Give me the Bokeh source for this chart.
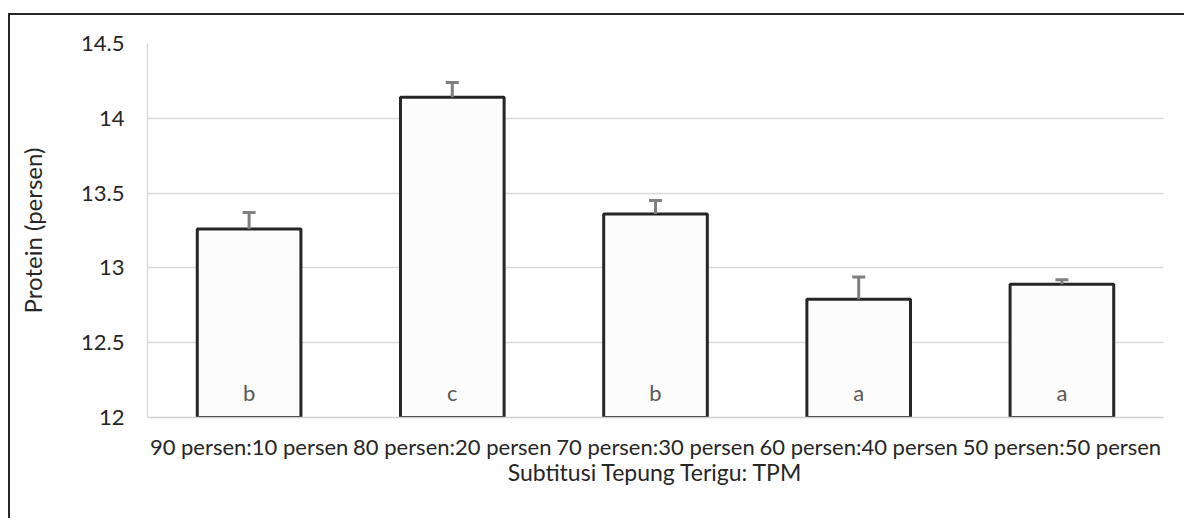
from bokeh.plotting import figure
from bokeh.models import Range1d, FactorRange, ColumnDataSource, Whisker, TeeHead
from bokeh.core.properties import value
from bokeh.embed import file_html
from bokeh.resources import INLINE

# ---- data ----
categories = ["90 persen:10 persen", "80 persen:20 persen", "70 persen:30 persen",
              "60 persen:40 persen", "50 persen:50 persen"]
protein = [13.26, 14.14, 13.36, 12.79, 12.89]
errors = [0.11, 0.10, 0.09, 0.15, 0.03]
letters = ["b", "c", "b", "a", "a"]
y_ticks = [12, 12.5, 13, 13.5, 14, 14.5]
y_tick_labels = {12: "12", 12.5: "12.5", 13: "13", 13.5: "13.5", 14: "14", 14.5: "14.5"}

FONT = "Lato"

src = ColumnDataSource(dict(
    cat=categories,
    val=protein,
    upper=[v + e for v, e in zip(protein, errors)],
    base=[12] * len(categories),
    letter=letters,
))

p = figure(
    x_range=FactorRange(*categories, range_padding=0),
    y_range=Range1d(12, 14.5),
    width=1176, height=505,
    min_border_left=137, min_border_right=23, min_border_top=28, min_border_bottom=103,
    output_backend="svg", toolbar_location=None,
)
p.styles = {"border-top": "2px solid #262626", "border-left": "2px solid #262626",
            "margin-top": "13px", "margin-left": "8px"}
p.outline_line_color = None
p.background_fill_color = "white"
p.border_fill_color = "white"

p.vbar(x="cat", top="val", bottom="base", width=0.51, source=src,
       fill_color="#fcfcfc", line_color="#262626", line_width=3)

w = Whisker(source=src, base="cat", upper="upper", lower="val", dimension="height",
            line_color="#7f7f7f", line_width=3,
            upper_head=TeeHead(size=13, line_color="#7f7f7f", line_width=3),
            lower_head=None, level="overlay")
p.add_layout(w)

p.text(x="cat", y="base", text="letter", source=src, y_offset=-25,
       text_align="center", text_baseline="middle",
       text_font=value(FONT), text_font_size="22px", text_color="#595959")

# grid
p.xgrid.grid_line_color = None
p.ygrid.grid_line_color = "#d9d9d9"
p.ygrid.grid_line_width = 1.5
p.ygrid.ticker = y_ticks

# y axis
p.yaxis.ticker = y_ticks
p.yaxis.major_label_overrides = y_tick_labels
p.yaxis.axis_line_color = "#d9d9d9"
p.yaxis.axis_line_width = 1.5
p.yaxis.major_tick_line_color = None
p.yaxis.minor_tick_line_color = None
p.yaxis.major_tick_out = 0
p.yaxis.major_label_standoff = 23
p.yaxis.major_label_text_font = FONT
p.yaxis.major_label_text_font_size = "22px"
p.yaxis.major_label_text_color = "#262626"
p.yaxis.axis_label = "Protein (persen)"
p.yaxis.axis_label_text_font = FONT
p.yaxis.axis_label_text_font_size = "24px"
p.yaxis.axis_label_text_font_style = "normal"
p.yaxis.axis_label_text_color = "#262626"
p.yaxis.axis_label_standoff = 31

# x axis
p.xaxis.axis_line_color = "#d0d0d0"
p.xaxis.axis_line_width = 1.5
p.xaxis.major_tick_line_color = None
p.xaxis.minor_tick_line_color = None
p.xaxis.major_tick_out = 0
p.xaxis.major_label_standoff = 15
p.xaxis.major_label_text_font = FONT
p.xaxis.major_label_text_font_size = "22px"
p.xaxis.major_label_text_color = "#262626"
p.xaxis.axis_label = "Subtitusi Tepung Terigu: TPM"
p.xaxis.axis_label_text_font = FONT
p.xaxis.axis_label_text_font_size = "23px"
p.xaxis.axis_label_text_font_style = "normal"
p.xaxis.axis_label_text_color = "#262626"
p.xaxis.axis_label_standoff = -5

open("out.html", "w").write(file_html(p, INLINE))
